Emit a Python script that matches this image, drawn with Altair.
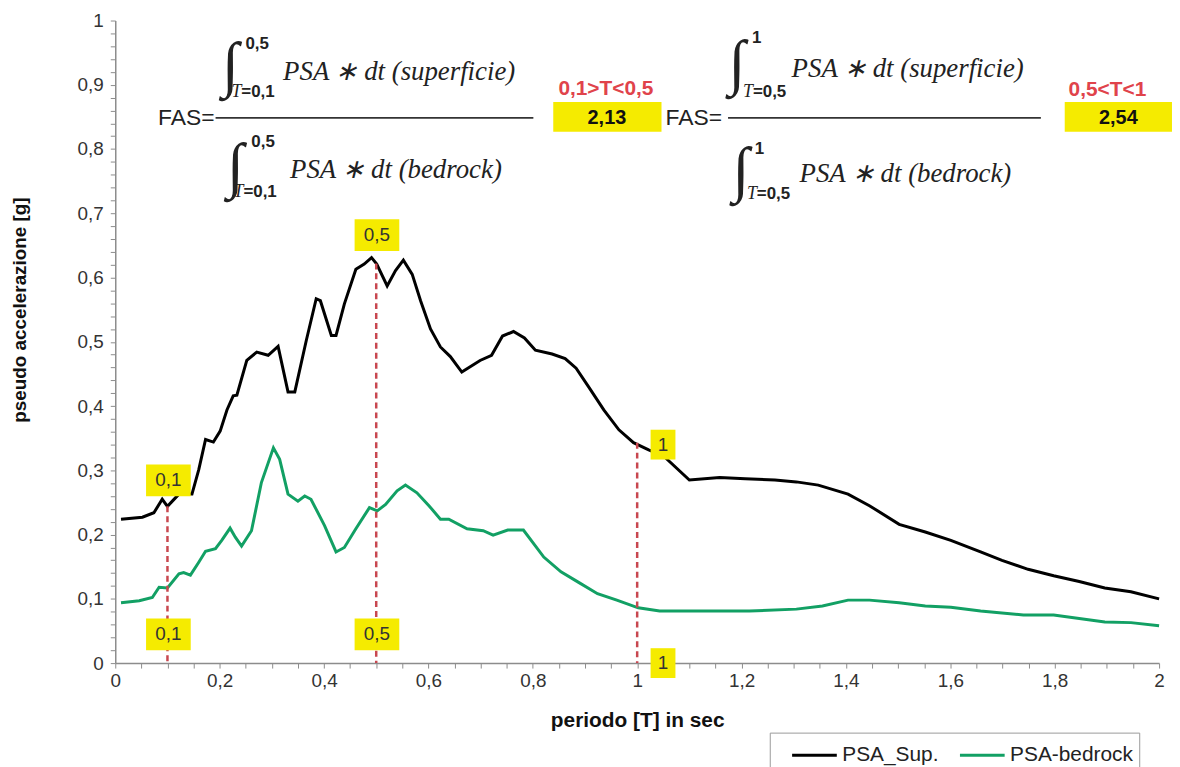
import altair as alt
import pandas as pd

# ---------------- data ----------------
T_sup = [0.011, 0.052, 0.074, 0.09, 0.1, 0.122, 0.147, 0.16, 0.173, 0.188, 0.201, 0.214, 0.226, 0.233,
         0.252, 0.271, 0.293, 0.312, 0.331, 0.344, 0.366, 0.385, 0.393, 0.414, 0.423, 0.439, 0.461, 0.477,
         0.491, 0.501, 0.521, 0.537, 0.552, 0.569, 0.585, 0.604, 0.623, 0.642, 0.664, 0.699, 0.721, 0.742,
         0.763, 0.784, 0.805, 0.837, 0.862, 0.883, 0.907, 0.936, 0.965, 0.993, 1.022, 1.051, 1.1, 1.158,
         1.207, 1.264, 1.305, 1.347, 1.404, 1.445, 1.502, 1.552, 1.601, 1.658, 1.699, 1.749, 1.798, 1.847,
         1.896, 1.946, 2.0]
psa_sup = [0.224, 0.227, 0.234, 0.255, 0.244, 0.263, 0.263, 0.301, 0.348, 0.344, 0.361, 0.394, 0.416, 0.417,
           0.471, 0.484, 0.479, 0.493, 0.422, 0.422, 0.502, 0.567, 0.564, 0.510, 0.510, 0.559, 0.613, 0.621,
           0.631, 0.621, 0.587, 0.611, 0.627, 0.605, 0.564, 0.520, 0.492, 0.477, 0.453, 0.471, 0.479, 0.509,
           0.516, 0.506, 0.487, 0.481, 0.474, 0.459, 0.430, 0.394, 0.363, 0.343, 0.332, 0.322, 0.285, 0.289,
           0.287, 0.285, 0.282, 0.277, 0.263, 0.245, 0.216, 0.204, 0.191, 0.173, 0.160, 0.146, 0.136, 0.127,
           0.117, 0.111, 0.100]

T_bed = [0.011, 0.046, 0.071, 0.084, 0.1, 0.122, 0.131, 0.144, 0.16, 0.173, 0.192, 0.204, 0.22, 0.23,
         0.242, 0.261, 0.28, 0.303, 0.315, 0.331, 0.35, 0.363, 0.375, 0.401, 0.423, 0.439, 0.461, 0.487,
         0.502, 0.518, 0.54, 0.556, 0.578, 0.601, 0.623, 0.639, 0.674, 0.705, 0.724, 0.752, 0.782, 0.821,
         0.854, 0.887, 0.924, 0.961, 1.002, 1.043, 1.125, 1.215, 1.305, 1.355, 1.404, 1.445, 1.502, 1.552,
         1.601, 1.658, 1.74, 1.798, 1.896, 1.946, 2.0]
psa_bed = [0.094, 0.097, 0.102, 0.118, 0.117, 0.139, 0.141, 0.137, 0.157, 0.174, 0.178, 0.191, 0.210, 0.196,
           0.182, 0.206, 0.281, 0.335, 0.317, 0.263, 0.252, 0.260, 0.255, 0.214, 0.173, 0.180, 0.209, 0.242,
           0.237, 0.247, 0.268, 0.277, 0.265, 0.245, 0.224, 0.224, 0.209, 0.206, 0.199, 0.207, 0.207, 0.165,
           0.142, 0.126, 0.108, 0.098, 0.086, 0.081, 0.081, 0.081, 0.084, 0.089, 0.098, 0.098, 0.094, 0.089,
           0.087, 0.081, 0.075, 0.075, 0.064, 0.063, 0.058]

series_names = ["PSA_Sup.", "PSA-bedrock"]
series_colors = ["#000000", "#12A064"]

# marker periods and the curve value where each dashed marker stops
mark_T = [0.1, 0.5, 1.0]
mark_top = [0.244, 0.622, 0.343]

# yellow period labels
lab_text = ["0,1", "0,1", "0,5", "0,5", "1", "1"]
lab_T = [0.1018, 0.1018, 0.5014, 0.5014, 1.0495, 1.0495]
lab_v = [0.2844, 0.0448, 0.6662, 0.0448, 0.3400, 0.0]
lab_T0 = [0.0590, 0.0590, 0.4586, 0.4586, 1.0257, 1.0257]
lab_T1 = [0.1446, 0.1446, 0.5442, 0.5442, 1.0733, 1.0733]
lab_v0 = [0.2597, 0.0201, 0.6414, 0.0201, 0.3168, -0.0232]
lab_v1 = [0.3091, 0.0696, 0.6909, 0.0696, 0.3632, 0.0232]

# FAS formulas
fas_T = [0.1903, 1.1627]
fas_v = [0.8485, 0.8485]
frac_T0 = [0.1922, 1.1741]
frac_T1 = [0.8011, 1.7735]
int_T = [0.2207, 0.2303, 1.1912, 1.1988]
int_v = [0.9289, 0.7713, 0.9320, 0.7651]
up_text = ["0,5", "0,5", "1", "1"]
up_T = [0.2493, 0.2607, 1.2198, 1.2255]
up_v = [0.9629, 0.8114, 0.9722, 0.8006]
lowT_T = [0.2226, 0.2265, 1.2027, 1.2103]
low_v = [0.8887, 0.7326, 0.8887, 0.7295]
low_text = ["=0,1", "=0,1", "=0,5", "=0,5"]
expr_text = ["PSA ∗ dt (superficie)", "PSA ∗ dt (bedrock)", "PSA ∗ dt (superficie)", "PSA ∗ dt (bedrock)"]
expr_T = [0.3216, 0.3349, 1.2959, 1.3111]
expr_v = [0.9196, 0.7666, 0.9243, 0.7604]
range_text = ["0,1>T<0,5", "0,5<T<1"]
range_T = [0.9401, 1.9010]
range_v = [0.8934, 0.8918]
res_text = ["2,13", "2,54"]
res_T = [0.9420, 1.9220]
res_v = [0.8485, 0.8485]
res_T0 = [0.8392, 1.8192]
res_T1 = [1.0466, 2.0247]
res_v0 = [0.8269, 0.8269]
res_v1 = [0.8733, 0.8733]

# ---------------- tables ----------------
df = pd.concat([
    pd.DataFrame({"T": T_sup, "psa": psa_sup, "serie": series_names[0]}),
    pd.DataFrame({"T": T_bed, "psa": psa_bed, "serie": series_names[1]}),
])
df_mark = pd.DataFrame({"T": mark_T, "psa": mark_top, "bot": [0.0] * len(mark_T)})
df_lab = pd.DataFrame({"text": lab_text, "T": lab_T, "psa": lab_v, "T0": lab_T0, "T1": lab_T1,
                       "v0": lab_v0, "v1": lab_v1})
df_fas = pd.DataFrame({"text": ["FAS=", "FAS="], "T": fas_T, "psa": fas_v})
df_frac = pd.DataFrame({"T": frac_T0, "T1": frac_T1, "psa": fas_v})
df_int = pd.DataFrame({"text": ["∫"] * 4, "T": int_T, "psa": int_v})
df_up = pd.DataFrame({"text": up_text, "T": up_T, "psa": up_v})
df_lowT = pd.DataFrame({"text": ["T"] * 4, "T": lowT_T, "psa": low_v})
df_low = pd.DataFrame({"text": low_text, "T": lowT_T, "psa": low_v})
df_expr = pd.DataFrame({"text": expr_text, "T": expr_T, "psa": expr_v})
df_range = pd.DataFrame({"text": range_text, "T": range_T, "psa": range_v})
df_res = pd.DataFrame({"text": res_text, "T": res_T, "psa": res_v, "T0": res_T0, "T1": res_T1,
                       "v0": res_v0, "v1": res_v1})

# ---------------- scales & axes ----------------
SANS = "Liberation Sans"
SERIF = "Liberation Serif"
xs = alt.Scale(domain=[0, 2], nice=False, zero=False)
ys = alt.Scale(domain=[0, 1], nice=False, zero=False)
x_ticks = [round(i * 0.05, 2) for i in range(41)]
y_ticks = [round(i * 0.02, 2) for i in range(51)]

x_axis = alt.Axis(
    values=x_ticks,
    labelExpr="abs(datum.value*5 - round(datum.value*5)) < 0.001 ? replace(format(datum.value, '~g'), '.', ',') : ''",
    labelOverlap=False, labelFlush=False, labelBound=False, grid=False,
    labelFont=SANS, labelFontSize=19, labelColor="#333333", labelPadding=4,
    tickSize=5, tickColor="#8c8c8c", domainColor="#8c8c8c", domainWidth=1.5,
    titleFont=SANS, titleFontSize=21, titleFontWeight="bold",
    titleColor="#111111", titleY=47, titleBaseline="top",
)
y_axis = alt.Axis(
    values=y_ticks,
    labelExpr="abs(datum.value*10 - round(datum.value*10)) < 0.001 ? replace(format(datum.value, '~g'), '.', ',') : ''",
    labelOverlap=False, labelFlush=False, labelBound=False, grid=False,
    labelFont=SANS, labelFontSize=19, labelColor="#333333", labelPadding=7,
    tickSize=5, tickColor="#8c8c8c", domainColor="#8c8c8c", domainWidth=1.5,
    titleFont=SANS, titleFontSize=19, titleFontWeight="bold",
    titleColor="#111111", titleX=-86, titleY=291, titleAngle=-90, titleAlign="center",
    titleBaseline="bottom",
)

XT = "periodo [T] in sec"
YT = "pseudo accelerazione [g]"


def X(f):
    return alt.X(f, scale=xs, axis=x_axis, title=XT)


def Y(f):
    return alt.Y(f, scale=ys, axis=y_axis, title=YT)


lines = alt.Chart(df).mark_line(strokeWidth=3).encode(
    x=X("T:Q"),
    y=Y("psa:Q"),
    color=alt.Color("serie:N", scale=alt.Scale(domain=series_names, range=series_colors),
                    legend=alt.Legend(title=None, orient="none", legendX=659, legendY=717,
                                      direction="horizontal", symbolType="M0,0H3",
                                      symbolStrokeWidth=3, symbolSize=900,
                                      labelOffset=34, labelFont=SANS, labelFontSize=21,
                                      labelColor="#222222", strokeColor="#9a9a9a",
                                      fillColor="white", padding=6, columnPadding=5,
                                      labelLimit=300)),
    detail="serie:N",
)

dashed = alt.Chart(df_mark).mark_rule(color="#C8474F", strokeWidth=2.5, strokeDash=[6, 4]).encode(
    x=X("T:Q"), y=Y("psa:Q"), y2="bot:Q")

lab_box = alt.Chart(df_lab).mark_rect(color="#F5EB00").encode(
    x=X("T0:Q"), x2="T1:Q", y=Y("v0:Q"), y2="v1:Q")
lab_txt = alt.Chart(df_lab).mark_text(font=SANS, fontSize=19, color="#333333", align="center",
                                      baseline="middle").encode(x=X("T:Q"), y=Y("psa:Q"), text="text:N")

fas = alt.Chart(df_fas).mark_text(font=SANS, fontSize=23, color="#222222", align="right",
                                  baseline="middle").encode(x=X("T:Q"), y=Y("psa:Q"), text="text:N")
frac = alt.Chart(df_frac).mark_rule(color="#333333", strokeWidth=2).encode(
    x=X("T:Q"), x2="T1:Q", y=Y("psa:Q"))
integ = alt.Chart(df_int).mark_text(font=SERIF, fontSize=62, color="#222222", align="center",
                                    baseline="middle").encode(x=X("T:Q"), y=Y("psa:Q"), text="text:N")
up = alt.Chart(df_up).mark_text(font=SANS, fontSize=17, fontWeight="bold", color="#222222",
                                align="left", baseline="middle").encode(x=X("T:Q"), y=Y("psa:Q"), text="text:N")
lowT = alt.Chart(df_lowT).mark_text(font=SERIF, fontSize=18, fontStyle="italic", color="#222222",
                                    align="left", baseline="middle").encode(x=X("T:Q"), y=Y("psa:Q"), text="text:N")
low = alt.Chart(df_low).mark_text(font=SANS, fontSize=17, fontWeight="bold", color="#222222", dx=10,
                                  align="left", baseline="middle").encode(x=X("T:Q"), y=Y("psa:Q"), text="text:N")
expr = alt.Chart(df_expr).mark_text(font=SERIF, fontSize=27, fontStyle="italic", color="#222222",
                                    align="left", baseline="middle").encode(x=X("T:Q"), y=Y("psa:Q"), text="text:N")
rng = alt.Chart(df_range).mark_text(font=SANS, fontSize=21, fontWeight="bold", color="#E0434B",
                                    align="center", baseline="middle").encode(x=X("T:Q"), y=Y("psa:Q"), text="text:N")
res_box = alt.Chart(df_res).mark_rect(color="#F5EB00").encode(
    x=X("T0:Q"), x2="T1:Q", y=Y("v0:Q"), y2="v1:Q")
res_txt = alt.Chart(df_res).mark_text(font=SANS, fontSize=20, fontWeight="bold", color="#111111",
                                      align="center", baseline="middle").encode(x=X("T:Q"), y=Y("psa:Q"), text="text:N")

chart = alt.layer(
    lines, dashed, lab_box, lab_txt, fas, frac, integ, up, lowT, low, expr, rng, res_box, res_txt
).properties(
    width=1051, height=647,
    padding={"left": 108, "top": 10, "right": 13, "bottom": 102},
    autosize=alt.AutoSizeParams(type="none"),
    background="white",
).configure_view(stroke=None)

chart.save("out.html", embed_options={"renderer": "svg", "actions": False})
